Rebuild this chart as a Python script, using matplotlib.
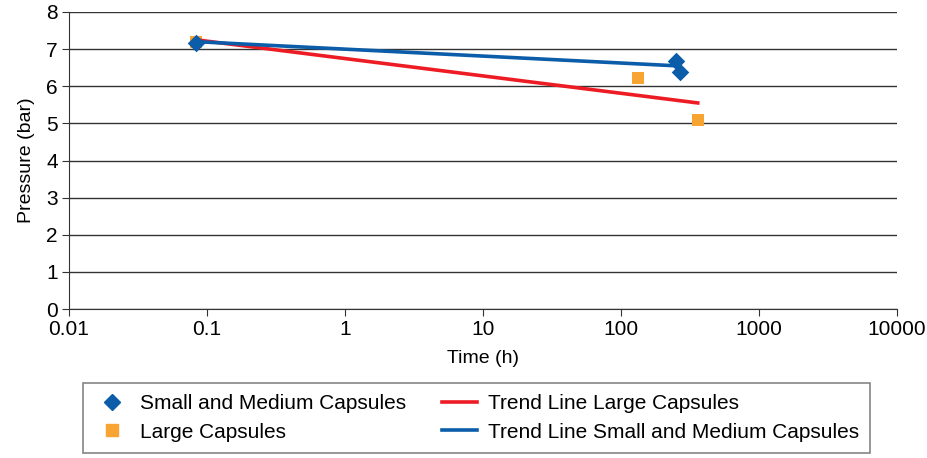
import matplotlib
matplotlib.use("Agg")
import matplotlib.pyplot as plt
from matplotlib.lines import Line2D

plt.rcParams["font.family"] = ["Liberation Sans", "DejaVu Sans"]

# measured points
sm_time = [0.083, 250, 268]
sm_pressure = [7.17, 6.68, 6.39]
lg_time = [0.083, 133, 361]
lg_pressure = [7.2, 6.22, 5.1]

# trend line end points (log fit as drawn in the source)
trend_sm_time = [0.083, 250]
trend_sm_pressure = [7.2, 6.55]
trend_lg_time = [0.083, 361]
trend_lg_pressure = [7.25, 5.55]

BLUE = "#0b5ca9"
RED = "#ed1c24"
ORANGE = "#f8a432"

fig = plt.figure(figsize=(9.27, 4.58), dpi=100)
ax = fig.add_axes([0.0744, 0.325, 0.893, 0.649])

ax.plot(trend_lg_time, trend_lg_pressure, color=RED, lw=2.6, zorder=3)
ax.plot(trend_sm_time, trend_sm_pressure, color=BLUE, lw=2.6, zorder=4)
ax.scatter(lg_time, lg_pressure, marker="s", s=80, color=ORANGE, zorder=2, linewidths=0)
ax.scatter(sm_time, sm_pressure, marker="D", s=80, color=BLUE, zorder=5, linewidths=0)

ax.set_xscale("log")
ax.set_xlim(0.01, 10000)
ax.set_ylim(0, 8)
ax.set_xticks([0.01, 0.1, 1, 10, 100, 1000, 10000])
ax.set_xticklabels(["0.01", "0.1", "1", "10", "100", "1000", "10000"])
ax.minorticks_off()
ax.set_yticks(range(0, 9))
ax.yaxis.grid(True, color="#333333", lw=1.0)
ax.set_axisbelow(True)
for side in ["top", "right"]:
    ax.spines[side].set_visible(False)
for side in ["left", "bottom"]:
    ax.spines[side].set_color("#333333")
ax.tick_params(labelsize=15, length=5, color="#333333", pad=3)
ax.set_xlabel("Time (h)", fontsize=14, labelpad=8)
ax.set_ylabel("Pressure (bar)", fontsize=14, labelpad=8)

handles = [
    Line2D([], [], marker="D", color=BLUE, ls="none", markersize=8),
    Line2D([], [], marker="s", color=ORANGE, ls="none", markersize=8),
    Line2D([], [], color=RED, lw=2.6),
    Line2D([], [], color=BLUE, lw=2.6),
]
labels = [
    "Small and Medium Capsules",
    "Large Capsules",
    "Trend Line Large Capsules",
    "Trend Line Small and Medium Capsules",
]
leg = fig.legend(handles, labels, ncol=2, loc="upper left",
                 bbox_to_anchor=(0.0895, 0.164),
                 fontsize=15, frameon=True, fancybox=False, handlelength=1.7,
                 handletextpad=0.5, borderpad=0.55, labelspacing=0.45,
                 columnspacing=1.7, borderaxespad=0)
leg.get_frame().set_edgecolor("#666666")
leg.get_frame().set_linewidth(1.2)

fig.savefig("out.png", dpi=100)
